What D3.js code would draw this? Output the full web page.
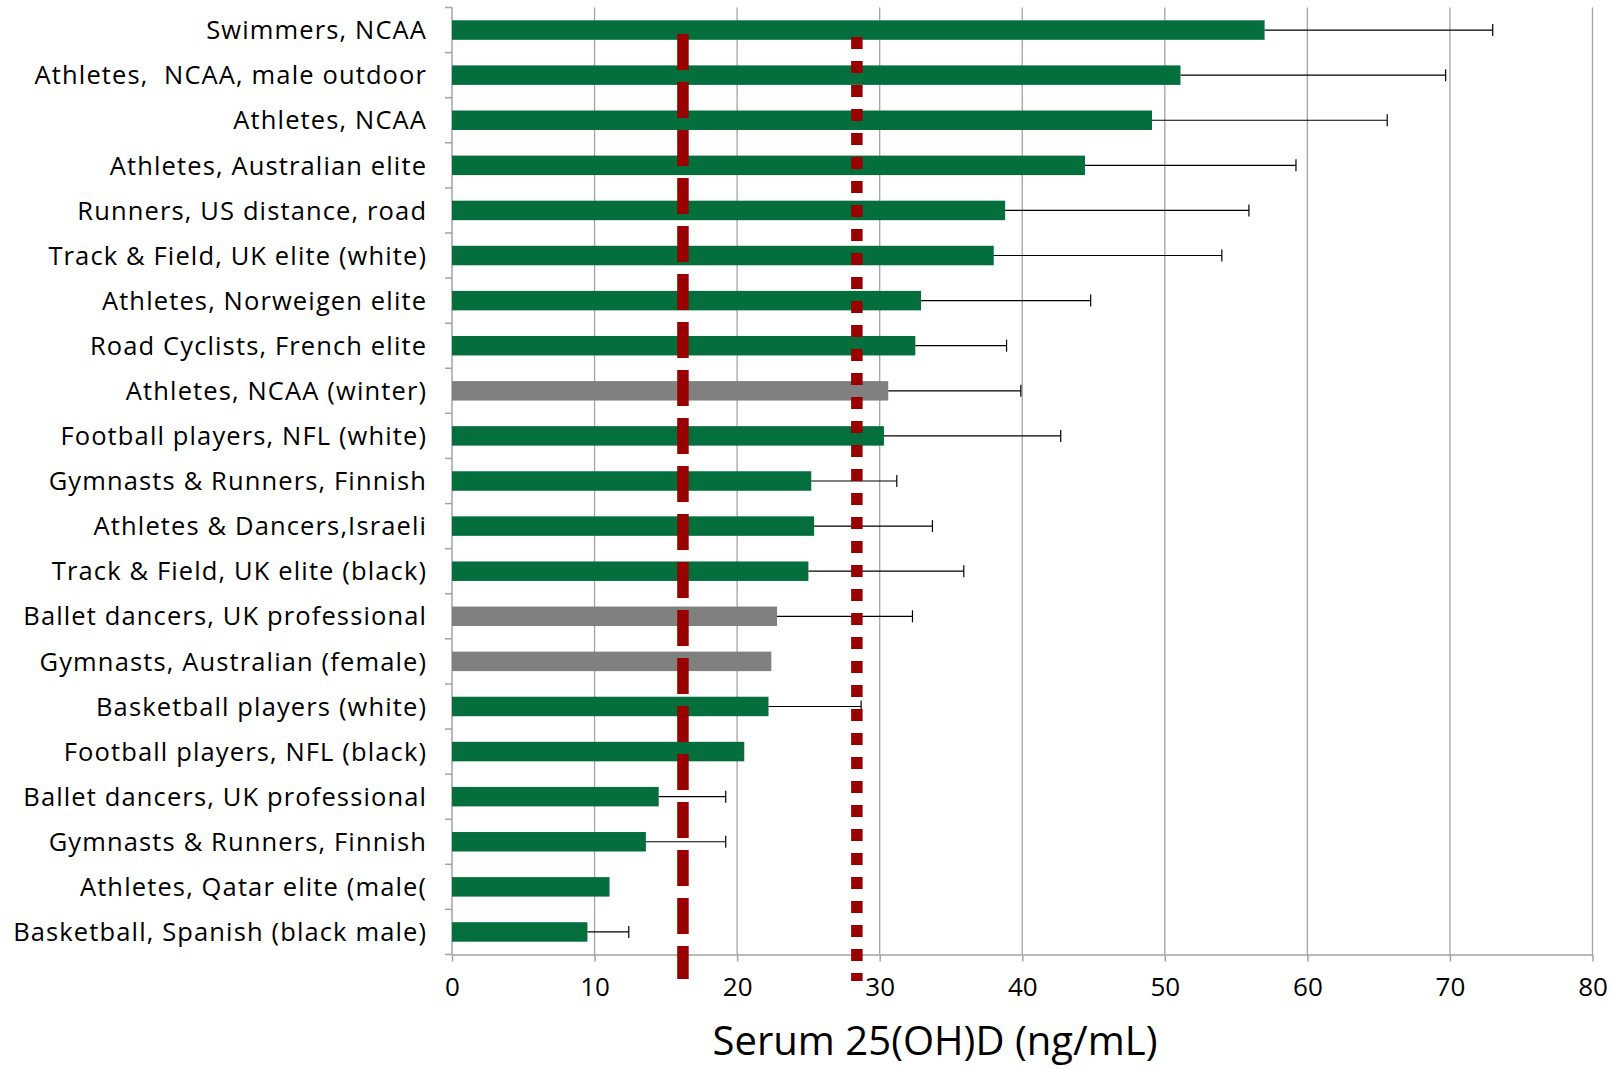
<!DOCTYPE html>
<html><head><meta charset="utf-8">
<script src="https://cdn.jsdelivr.net/npm/d3@7"></script>
<style>body{margin:0;background:#fff} svg{display:block}</style>
</head><body>
<svg id="chart" width="1611" height="1069"></svg>
<script>
const categories = [
  "Swimmers, NCAA",
  "Athletes,  NCAA, male outdoor",
  "Athletes, NCAA",
  "Athletes, Australian elite",
  "Runners, US distance, road",
  "Track & Field, UK elite (white)",
  "Athletes, Norweigen elite",
  "Road Cyclists, French elite",
  "Athletes, NCAA (winter)",
  "Football players, NFL (white)",
  "Gymnasts & Runners, Finnish",
  "Athletes & Dancers,Israeli",
  "Track & Field, UK elite (black)",
  "Ballet dancers, UK professional",
  "Gymnasts, Australian (female)",
  "Basketball players (white)",
  "Football players, NFL (black)",
  "Ballet dancers, UK professional",
  "Gymnasts & Runners, Finnish",
  "Athletes, Qatar elite (male(",
  "Basketball, Spanish (black male)"
];
const values = [57.0, 51.1, 49.1, 44.4, 38.8, 38.0, 32.9, 32.5, 30.6, 30.3, 25.2, 25.4, 25.0, 22.8, 22.4, 22.2, 20.5, 14.5, 13.6, 11.05, 9.5];
const errors = [16.0, 18.6, 16.5, 14.8, 17.1, 16.0, 11.9, 6.4, 9.3, 12.4, 6.0, 8.3, 10.9, 9.5, null, 6.5, null, 4.7, 5.6, null, 2.9];
const season = ["a","a","a","a","a","a","a","a","w","a","a","a","a","w","w","a","a","a","a","a","a"];
const xTicks = [0, 10, 20, 30, 40, 50, 60, 70, 80];
const thresholdDashed = 16.2;
const thresholdDotted = 28.4;
const axisTitle = "Serum 25(OH)D (ng/mL)";

(function () {
const svg = d3.select("#chart");
const FONT = "'Open Sans', sans-serif";
const plotTop = 7.5, plotBottom = 954.5, plotLeft = 452, plotRight = 1592.5;
const x = d3.scaleLinear().domain([0, 80]).range([plotLeft, plotRight]);
const y = d3.scaleBand().domain(d3.range(categories.length)).range([plotTop, plotBottom])
  .paddingInner(0.568).paddingOuter(0.284);
const color = d => d === "w" ? "#808080" : "#046e3d";
const gridColor = "#a3a3a3";

function measure(text, size, ls) {
  const t = svg.append("text").attr("font-family", FONT).attr("font-size", size)
    .style("white-space", "pre").style("letter-spacing", (ls || 0) + "px").text(text);
  const w = t.node().getComputedTextLength();
  t.remove();
  return w;
}
const labelSize = 25.5;
const longest = "Basketball, Spanish (black male)";
const labelLS = Math.max(0, (414 - measure(longest, labelSize, 0)) / longest.length);
const titleSize = 40;
const titleLS = Math.max(0, (445 - measure(axisTitle, titleSize, 0)) / axisTitle.length);

// gridlines
svg.append("g").selectAll("line").data(xTicks.slice(1)).join("line")
  .attr("x1", d => x(d)).attr("x2", d => x(d))
  .attr("y1", plotTop).attr("y2", plotBottom)
  .attr("stroke", gridColor).attr("stroke-width", 1.3);

// left axis line and category ticks
svg.append("line").attr("x1", plotLeft).attr("x2", plotLeft).attr("y1", plotTop).attr("y2", plotBottom)
  .attr("stroke", gridColor).attr("stroke-width", 1.5);
const boundaries = d3.range(categories.length + 1).map(i => plotTop + i * y.step());
svg.append("g").selectAll("line").data(boundaries).join("line")
  .attr("x1", plotLeft - 7).attr("x2", plotLeft)
  .attr("y1", d => d).attr("y2", d => d)
  .attr("stroke", gridColor).attr("stroke-width", 1.5);

// bottom axis
const xAxis = d3.axisBottom(x).tickValues(xTicks).tickSize(7).tickSizeOuter(0).tickPadding(16);
const gx = svg.append("g").attr("transform", `translate(0,${plotBottom})`).call(xAxis);
gx.select(".domain").attr("stroke", gridColor).attr("stroke-width", 1.5);
gx.selectAll(".tick line").attr("stroke", gridColor).attr("stroke-width", 1.5);
gx.selectAll(".tick text").attr("font-family", FONT).attr("font-size", 26)
  .attr("fill", "#000").attr("dy", "0.71em");

// bars
svg.append("g").selectAll("rect").data(values).join("rect")
  .attr("x", x(0)).attr("y", (d, i) => y(i))
  .attr("width", d => x(d) - x(0)).attr("height", y.bandwidth())
  .attr("fill", (d, i) => color(season[i]));

// error bars
const eb = svg.append("g").selectAll("g")
  .data(values.map((v, i) => ({v, e: errors[i], i})).filter(d => d.e != null)).join("g");
eb.append("line")
  .attr("x1", d => x(d.v)).attr("x2", d => x(d.v + d.e))
  .attr("y1", d => y(d.i) + y.bandwidth() / 2).attr("y2", d => y(d.i) + y.bandwidth() / 2)
  .attr("stroke", "#000").attr("stroke-width", 1.2);
eb.append("line")
  .attr("x1", d => x(d.v + d.e)).attr("x2", d => x(d.v + d.e))
  .attr("y1", d => y(d.i) + y.bandwidth() / 2 - 6).attr("y2", d => y(d.i) + y.bandwidth() / 2 + 6)
  .attr("stroke", "#000").attr("stroke-width", 1.2);

// threshold lines
svg.append("line").attr("x1", x(thresholdDashed)).attr("x2", x(thresholdDashed))
  .attr("y1", 34).attr("y2", 979)
  .attr("stroke", "#990000").attr("stroke-width", 11.5).attr("stroke-dasharray", "36 12");
svg.append("line").attr("x1", x(thresholdDotted)).attr("x2", x(thresholdDotted))
  .attr("y1", 37).attr("y2", 981)
  .attr("stroke", "#990000").attr("stroke-width", 11.5).attr("stroke-dasharray", "12 12");

// category labels
svg.append("g").selectAll("text").data(categories).join("text")
  .attr("x", 426 + labelLS).attr("y", (d, i) => y(i) + y.bandwidth() / 2)
  .attr("dy", "0.36em").attr("text-anchor", "end")
  .attr("font-family", FONT).attr("font-size", labelSize).attr("fill", "#000")
  .style("white-space", "pre").style("letter-spacing", labelLS + "px").text(d => d);

// axis title
svg.append("text").attr("x", 935 + titleLS / 2).attr("y", 1055).attr("text-anchor", "middle")
  .attr("font-family", FONT).attr("font-size", titleSize).attr("fill", "#000")
  .style("letter-spacing", titleLS + "px").text(axisTitle);
})();
</script>
</body></html>
